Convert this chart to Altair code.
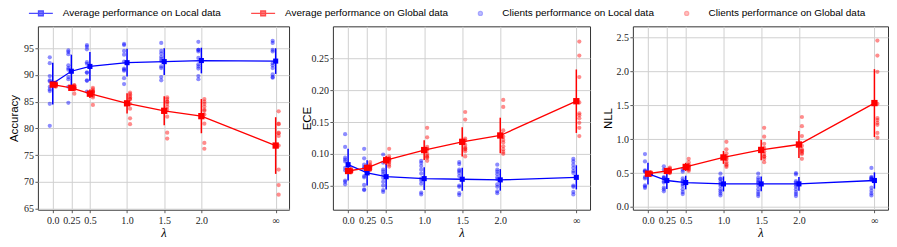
import altair as alt
import pandas as pd

# ---------------- data ----------------
lam_pos = [0.0, 0.25, 0.5, 1.0, 1.5, 2.0, 3.0]
lam_labels = ["0.0", "0.25", "0.5", "1.0", "1.5", "2.0", "∞"]

series_names = [
    "Average performance on Local data",
    "Average performance on Global data",
    "Clients performance on Local data",
    "Clients performance on Global data",
]

# Accuracy
acc_local_mean = [88.4, 90.7, 91.6, 92.3, 92.5, 92.7, 92.6]
acc_local_err = [3.9, 3.1, 2.7, 2.6, 2.5, 2.4, 2.4]
acc_global_mean = [88.2, 87.6, 86.5, 84.7, 83.3, 82.3, 76.8]
acc_global_err = [0.4, 0.5, 0.8, 1.9, 2.7, 3.2, 5.3]
acc_local_clients = [
    [93.3, 92.2, 89.8, 89.0, 88.8, 87.8, 87.3, 87.0, 84.6, 80.5],
    [94.6, 94.3, 93.9, 91.8, 91.3, 91.0, 89.6, 89.2, 87.8, 84.8],
    [95.6, 95.3, 94.8, 92.4, 92.1, 90.5, 90.4, 88.9, 89.0, 86.9],
    [95.8, 95.6, 94.5, 93.8, 92.5, 91.2, 91.0, 90.8, 89.4, 88.3],
    [96.0, 94.5, 94.0, 93.4, 93.0, 92.6, 91.6, 91.3, 89.6, 89.0],
    [96.2, 94.7, 94.7, 94.4, 93.2, 92.0, 91.6, 91.2, 89.8, 89.2],
    [96.4, 96.0, 94.7, 94.4, 92.2, 91.8, 91.3, 90.1, 89.6, 89.5],
]
acc_global_clients = [
    [88.6, 88.5, 88.4, 88.3, 88.2, 88.2, 88.1, 88.0, 87.9, 87.8],
    [88.1, 88.0, 87.8, 87.7, 87.6, 87.6, 87.5, 87.4, 87.3, 86.5],
    [87.6, 87.3, 87.0, 86.9, 86.8, 86.7, 86.4, 86.1, 85.8, 84.4],
    [86.7, 86.4, 86.1, 85.8, 85.5, 85.5, 84.6, 83.7, 81.9, 80.8],
    [85.8, 85.5, 85.0, 85.0, 84.6, 84.1, 83.5, 82.2, 79.2, 78.1],
    [85.5, 85.0, 84.6, 84.1, 83.5, 83.3, 82.6, 80.9, 77.3, 76.2],
    [83.2, 80.9, 80.8, 79.2, 79.1, 78.6, 76.8, 72.3, 69.4, 67.6],
]

# ECE
ece_local_mean = [0.083, 0.070, 0.064, 0.061, 0.060, 0.059, 0.063]
ece_local_err = [0.025, 0.020, 0.020, 0.018, 0.018, 0.017, 0.019]
ece_global_mean = [0.073, 0.078, 0.090, 0.106, 0.119, 0.129, 0.183]
ece_global_err = [0.003, 0.005, 0.007, 0.0155, 0.023, 0.028, 0.050]
ece_local_clients = [
    [0.131, 0.111, 0.094, 0.091, 0.088, 0.078, 0.074, 0.058, 0.056, 0.052],
    [0.108, 0.093, 0.083, 0.079, 0.077, 0.065, 0.063, 0.051, 0.044, 0.043],
    [0.099, 0.086, 0.075, 0.072, 0.068, 0.062, 0.056, 0.050, 0.043, 0.040],
    [0.089, 0.086, 0.081, 0.075, 0.069, 0.061, 0.058, 0.053, 0.039, 0.036],
    [0.087, 0.084, 0.075, 0.073, 0.070, 0.065, 0.050, 0.048, 0.038, 0.035],
    [0.083, 0.075, 0.072, 0.068, 0.063, 0.060, 0.052, 0.048, 0.041, 0.038],
    [0.092, 0.088, 0.083, 0.078, 0.073, 0.070, 0.050, 0.048, 0.040, 0.036],
]
ece_global_clients = [
    [0.0765, 0.075, 0.074, 0.0735, 0.073, 0.0725, 0.072, 0.0715, 0.071, 0.073],
    [0.087, 0.083, 0.081, 0.080, 0.079, 0.078, 0.077, 0.076, 0.075, 0.075],
    [0.108, 0.096, 0.093, 0.092, 0.091, 0.090, 0.088, 0.086, 0.083, 0.080],
    [0.141, 0.126, 0.111, 0.108, 0.106, 0.100, 0.097, 0.095, 0.094, 0.089],
    [0.166, 0.154, 0.124, 0.121, 0.114, 0.110, 0.108, 0.107, 0.104, 0.096],
    [0.185, 0.174, 0.137, 0.127, 0.122, 0.118, 0.112, 0.107, 0.103, 0.100],
    [0.277, 0.255, 0.221, 0.181, 0.164, 0.161, 0.156, 0.149, 0.141, 0.128],
]

# NLL
nll_local_mean = [0.49, 0.39, 0.36, 0.34, 0.34, 0.34, 0.39]
nll_local_err = [0.16, 0.125, 0.10, 0.11, 0.11, 0.10, 0.12]
nll_global_mean = [0.49, 0.53, 0.59, 0.73, 0.84, 0.92, 1.53]
nll_global_err = [0.02, 0.03, 0.06, 0.095, 0.15, 0.20, 0.50]
nll_local_clients = [
    [0.78, 0.67, 0.54, 0.525, 0.52, 0.44, 0.42, 0.32, 0.30, 0.28],
    [0.60, 0.55, 0.44, 0.43, 0.42, 0.38, 0.36, 0.285, 0.26, 0.23],
    [0.55, 0.52, 0.42, 0.39, 0.37, 0.34, 0.31, 0.26, 0.22, 0.19],
    [0.49, 0.42, 0.41, 0.37, 0.34, 0.31, 0.26, 0.23, 0.20, 0.17],
    [0.49, 0.43, 0.40, 0.37, 0.35, 0.31, 0.26, 0.22, 0.19, 0.16],
    [0.50, 0.48, 0.38, 0.36, 0.33, 0.30, 0.26, 0.22, 0.19, 0.16],
    [0.575, 0.445, 0.43, 0.42, 0.41, 0.40, 0.285, 0.24, 0.20, 0.17],
]
nll_global_clients = [
    [0.51, 0.505, 0.50, 0.495, 0.49, 0.488, 0.485, 0.48, 0.475, 0.47],
    [0.58, 0.565, 0.55, 0.54, 0.53, 0.525, 0.52, 0.515, 0.51, 0.50],
    [0.71, 0.66, 0.62, 0.61, 0.60, 0.59, 0.575, 0.56, 0.55, 0.53],
    [0.96, 0.85, 0.79, 0.745, 0.72, 0.70, 0.66, 0.63, 0.61, 0.59],
    [1.165, 1.035, 0.93, 0.87, 0.82, 0.78, 0.745, 0.74, 0.71, 0.66],
    [1.325, 1.19, 1.045, 0.90, 0.85, 0.83, 0.82, 0.795, 0.78, 0.71],
    [2.45, 2.23, 1.99, 1.52, 1.31, 1.28, 1.24, 1.21, 1.09, 1.02],
]

# ---------------- styling ----------------
BLUE = "#0000ff"
RED = "#ff0000"
LIGHT_BLUE = "#7f7fff"
LIGHT_RED = "#ff8080"
# legend glyphs (custom symbol paths, scaled by sqrt(size)/2)
MEAN_PATH = "M-3,0L3,0M-0.6,-0.6L0.6,-0.6L0.6,0.6L-0.6,0.6Z"
DOT_PATH = "M0.5,0A0.5,0.5,0,1,1,-0.5,0A0.5,0.5,0,1,1,0.5,0Z"
PLOT_H = 184

label_expr = " : ".join(
    f"datum.value == {p} ? '{l}'" for p, l in zip(lam_pos[:-1], lam_labels[:-1])
) + f" : '{lam_labels[-1]}'"

x_scale = alt.Scale(domain=[-0.2, 3.18], nice=False, zero=False)
x_axis = alt.Axis(
    values=lam_pos, labelExpr=label_expr, title="λ",
    titleFont="Liberation Serif", titleFontStyle="italic", titleFontSize=12.5,
    titlePadding=1, labelPadding=2.5, labelFlush=False, labelOverlap=False,
)


def clients_frame(clients):
    rows = []
    for p, vals in zip(lam_pos, clients):
        for v in vals:
            rows.append({"lam": p, "val": v})
    return pd.DataFrame(rows)


def means_frame(mean, err):
    return pd.DataFrame({"lam": lam_pos, "mean": mean, "err": err})


def panel(title, lm, le, gm, ge, lc, gc, ydom, yvals, yfmt, width, ext, with_legend=False):
    y_scale = alt.Scale(domain=ydom, nice=False, zero=False)
    y_axis = alt.Axis(values=yvals, format=yfmt, title=title, titlePadding=0,
                      labelPadding=1.5, minExtent=ext, maxExtent=ext, labelOverlap=False)
    X = alt.X("lam:Q", scale=x_scale, axis=x_axis)

    def dots(df, color, off):
        return alt.Chart(df).mark_circle(size=18, opacity=0.45, color=color, xOffset=off).encode(
            x=X, y=alt.Y("val:Q", scale=y_scale, axis=y_axis)
        )

    def mean_layers(df, color, size):
        base = alt.Chart(df).transform_calculate(
            lo="datum.mean - datum.err", hi="datum.mean + datum.err"
        )
        rule = base.mark_rule(color=color, strokeWidth=1.5).encode(
            x=X, y=alt.Y("lo:Q", scale=y_scale, axis=y_axis), y2="hi:Q"
        )
        line = base.mark_line(color=color, strokeWidth=1.3).encode(
            x=X, y=alt.Y("mean:Q", scale=y_scale, axis=y_axis)
        )
        sq = base.mark_square(color=color, size=size, opacity=1).encode(
            x=X, y=alt.Y("mean:Q", scale=y_scale, axis=y_axis)
        )
        return [rule, line, sq]

    layers = [dots(clients_frame(lc), BLUE, -3), dots(clients_frame(gc), RED, 3)]
    layers += mean_layers(means_frame(lm, le), BLUE, 26)
    layers += mean_layers(means_frame(gm, ge), RED, 40)

    if with_legend:
        leg = alt.Legend(
            title=None, orient="none", legendX=-2, legendY=-18, direction="horizontal",
            columns=4, labelFont="Liberation Sans", labelFontSize=10, labelColor="#000",
            labelOffset=17, columnPadding=27, symbolStrokeWidth=1.3, symbolSize=64,
            padding=0, labelLimit=400,
        )
        leg_df = pd.DataFrame({"series": series_names, "lam": [0.0] * 4, "val": [None] * 4})
        dom = series_names
        legend_layer = alt.Chart(leg_df).mark_point(filled=True, strokeWidth=1.3, size=64).encode(
            x=X,
            y=alt.Y("val:Q", scale=y_scale, axis=y_axis),
            fill=alt.Fill("series:N", scale=alt.Scale(domain=dom, range=[BLUE, RED, LIGHT_BLUE, LIGHT_RED]), legend=leg),
            stroke=alt.Stroke("series:N", scale=alt.Scale(domain=dom, range=[BLUE, RED, LIGHT_BLUE, LIGHT_RED]), legend=leg),
            shape=alt.Shape("series:N", scale=alt.Scale(domain=dom, range=[MEAN_PATH, MEAN_PATH, DOT_PATH, DOT_PATH]), legend=leg),
        )
        layers.append(legend_layer)

    return alt.layer(*layers).properties(width=width, height=PLOT_H)


p1 = panel("Accuracy", acc_local_mean, acc_local_err, acc_global_mean, acc_global_err,
           acc_local_clients, acc_global_clients, [64.8, 99.1], [65, 70, 75, 80, 85, 90, 95],
           "d", 252, 18, with_legend=True)
p2 = panel("ECE", ece_local_mean, ece_local_err, ece_global_mean, ece_global_err,
           ece_local_clients, ece_global_clients, [0.012, 0.301], [0.05, 0.10, 0.15, 0.20, 0.25],
           ".2f", 258, 20.5)
p3 = panel("NLL", nll_local_mean, nll_local_err, nll_global_mean, nll_global_err,
           nll_local_clients, nll_global_clients, [-0.04, 2.66], [0.0, 0.5, 1.0, 1.5, 2.0, 2.5],
           ".1f", 256, 19.5)

chart = alt.hconcat(p1, p2, p3, spacing=11).properties(
    padding={"left": 0, "top": 0, "right": 0, "bottom": 0}
).configure_view(
    stroke="#333333", strokeWidth=1
).configure_axis(
    domain=False, grid=True, gridColor="#d0d0d0", gridWidth=1,
    tickColor="#333333", tickSize=3, tickWidth=0.8,
    labelFont="Liberation Serif", labelFontSize=10, labelColor="#222222",
    titleFont="Liberation Sans", titleFontSize=11.5, titleFontWeight="normal", titleColor="#000000",
)

chart.save("out.html", embed_options={"renderer": "svg", "actions": False})
